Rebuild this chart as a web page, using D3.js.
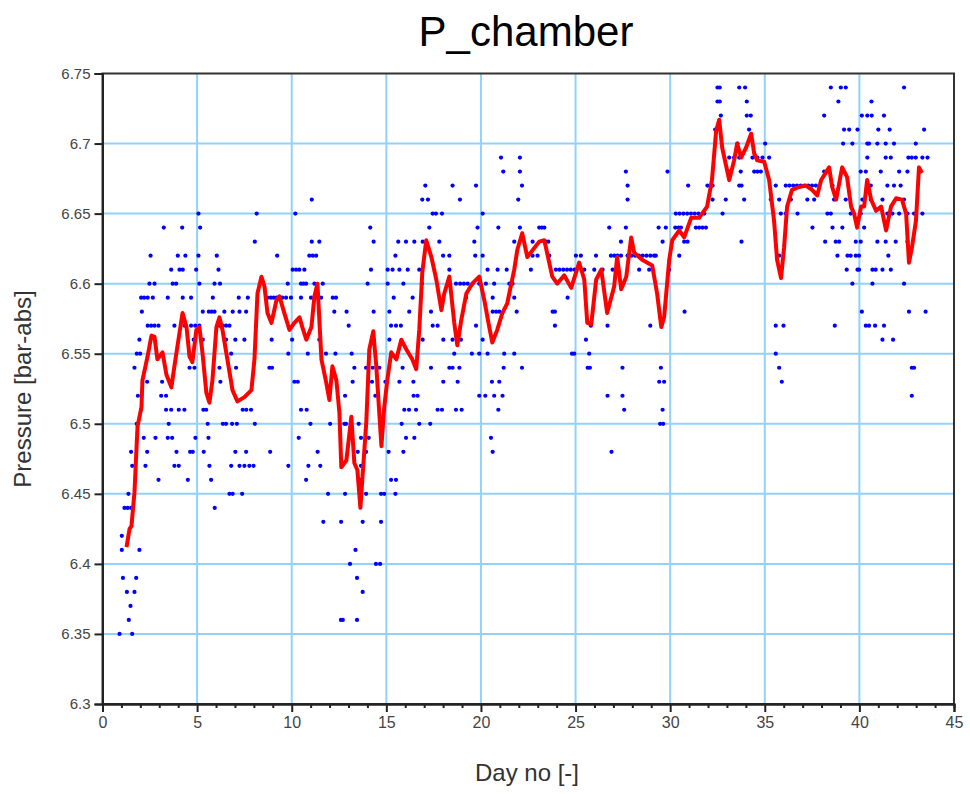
<!DOCTYPE html>
<html>
<head>
<meta charset="utf-8">
<script src="https://cdn.jsdelivr.net/npm/d3@7"></script>
<style>
  body { margin: 0; background: #fff; }
  svg text { font-family: "Liberation Sans", Arial, sans-serif; }
</style>
</head>
<body>
<script>
// smoothed pressure (red line), [day, bar-abs]
const pressureTrend = [
  [1.27,6.412],[1.43,6.425],[1.53,6.427],[1.69,6.451],[1.85,6.498],[2.06,6.512],[2.11,6.531],[2.38,6.548],
  [2.59,6.563],[2.75,6.562],[2.90,6.546],[3.17,6.551],[3.38,6.535],[3.64,6.526],[3.80,6.541],[4.07,6.565],
  [4.23,6.579],[4.44,6.569],[4.60,6.548],[4.75,6.544],[4.96,6.567],[5.12,6.569],[5.28,6.551],[5.49,6.522],
  [5.65,6.515],[5.81,6.531],[6.02,6.569],[6.18,6.576],[6.34,6.567],[6.60,6.546],[6.87,6.524],[7.13,6.516],
  [7.50,6.519],[7.87,6.524],[8.03,6.546],[8.19,6.593],[8.40,6.605],[8.56,6.598],[8.72,6.579],[8.93,6.572],
  [9.19,6.588],[9.35,6.591],[9.61,6.579],[9.88,6.567],[10.14,6.572],[10.41,6.576],[10.56,6.569],[10.77,6.560],
  [11.04,6.569],[11.20,6.591],[11.36,6.600],[11.57,6.546],[11.83,6.529],[11.99,6.517],[12.15,6.541],[12.36,6.531],
  [12.52,6.508],[12.62,6.469],[12.89,6.474],[13.15,6.505],[13.31,6.472],[13.47,6.467],[13.63,6.440],[13.73,6.460],
  [13.94,6.501],[14.10,6.553],[14.31,6.566],[14.47,6.541],[14.74,6.484],[14.89,6.512],[15.05,6.531],[15.26,6.551],
  [15.53,6.546],[15.79,6.560],[16.06,6.553],[16.37,6.546],[16.58,6.539],[16.74,6.567],[16.90,6.608],[17.11,6.631],
  [17.38,6.619],[17.64,6.603],[17.91,6.581],[18.06,6.593],[18.33,6.605],[18.59,6.572],[18.75,6.556],[18.96,6.574],
  [19.23,6.593],[19.54,6.600],[19.91,6.605],[20.18,6.588],[20.44,6.569],[20.60,6.558],[20.86,6.567],[21.13,6.579],
  [21.39,6.586],[21.76,6.610],[21.92,6.624],[22.18,6.636],[22.45,6.619],[23.08,6.630],[23.35,6.631],[23.77,6.605],
  [24.03,6.600],[24.40,6.606],[24.77,6.597],[25.19,6.615],[25.46,6.603],[25.62,6.572],[25.83,6.571],[26.09,6.603],
  [26.36,6.610],[26.67,6.579],[27.04,6.598],[27.20,6.619],[27.41,6.596],[27.68,6.605],[27.94,6.633],[28.10,6.622],
  [28.52,6.617],[29.05,6.613],[29.31,6.593],[29.53,6.569],[29.68,6.576],[29.95,6.617],[30.11,6.631],[30.48,6.638],
  [30.74,6.633],[31.11,6.647],[31.53,6.647],[31.95,6.655],[32.21,6.674],[32.43,6.709],[32.59,6.717],[32.75,6.697],
  [33.12,6.674],[33.38,6.688],[33.54,6.700],[33.75,6.690],[34.01,6.697],[34.28,6.707],[34.44,6.693],[34.60,6.688],
  [34.97,6.687],[35.23,6.674],[35.49,6.645],[35.65,6.617],[35.86,6.604],[36.02,6.626],[36.18,6.655],[36.44,6.667],
  [36.81,6.669],[37.18,6.670],[37.50,6.667],[37.77,6.663],[37.98,6.674],[38.40,6.683],[38.56,6.669],[38.77,6.660],
  [39.09,6.683],[39.35,6.676],[39.56,6.655],[39.72,6.650],[39.88,6.640],[40.09,6.655],[40.25,6.655],[40.41,6.674],
  [40.62,6.660],[40.88,6.652],[41.15,6.655],[41.41,6.638],[41.67,6.655],[41.94,6.661],[42.25,6.660],[42.47,6.650],
  [42.62,6.615],[42.78,6.626],[42.99,6.645],[43.15,6.683],[43.31,6.679]
];

// raw samples (blue dots), grouped by the 0.01 bar level they sit on: [level, days]
const sampleRows = [
  [6.74, [32.5,32.62,33.65,33.96,38.49,39.02,39.28,42.36]],
  [6.73, [32.5,32.62,34.05,38.89,40.64]],
  [6.72, [32.68,34.05,34.26,38.14,40.13,40.42,40.65,41.3]],
  [6.71, [32.38,34.17,39.19,39.46,39.9,41.0,41.6,43.42]],
  [6.70, [33.56,35.02,39.14,39.63,40.42,40.51,40.95,41.39,41.83,42.98]],
  [6.69, [21.06,22.06,33.12,33.38,33.65,34.35,34.61,34.88,35.23,40.42,41.39,41.66,42.59,42.77,42.98,43.33,43.6]],
  [6.68, [21.18,22.06,27.66,29.86,33.12,33.73,34.44,34.61,34.79,38.14,39.1,40.07,40.34,41.13,42.1,42.54]],
  [6.67, [17.06,18.5,19.74,22.17,27.75,30.95,31.97,32.24,33.65,33.77,35.58,36.11,36.3,36.5,36.7,36.9,37.1,37.3,
          37.5,37.7,38.58,40.6,41.48,41.83,42.18]],
  [6.66, [11.06,16.9,17.2,18.89,21.97,27.75,32.24,32.94,33.91,35.32,35.76,36.38,37.25,37.61,38.66,39.28,40.16,
          40.6,41.22,42.36]],
  [6.65, [5.07,8.15,10.19,17.45,17.62,17.94,20.09,30.3,30.5,30.7,30.9,31.1,31.3,31.5,31.8,32.77,35.85,36.11,
          36.73,38.31,38.49,39.54,40.07,41.48,41.74,42.1,42.54,42.89,43.33]],
  [6.64, [3.24,4.21,5.16,14.15,17.27,19.82,20.92,22.06,23.08,23.22,23.35,26.78,27.66,29.39,29.77,30.27,30.45,
          30.57,31.36,31.53,31.71,31.89,37.52,38.58,39.1,40.25]],
  [6.63, [8.05,11.06,11.46,14.33,15.63,16.04,16.48,16.92,17.8,19.65,21.76,22.73,23.43,23.56,27.4,29.6,30.74,
          30.92,33.77,38.19,38.75,38.93,39.81,40.07,40.95,41.39,41.92,42.54]],
  [6.62, [2.54,3.98,4.38,5.07,6.04,9.23,10.93,11.11,11.29,15.48,18.0,18.33,19.7,20.09,22.73,22.99,23.61,25.02,
          25.28,26.08,26.87,27.05,27.22,27.4,27.75,27.95,28.15,28.35,28.55,28.75,28.95,29.15,29.24,30.48,35.76,
          38.84,39.37,39.54,39.81,39.98,41.53]],
  [6.61, [3.63,4.07,4.24,4.95,6.13,10.05,10.23,10.4,10.67,14.19,15.07,15.33,15.69,16.13,16.74,18.33,20.35,20.88,
          21.36,22.64,23.96,24.15,24.35,24.55,24.75,24.95,25.46,25.99,26.43,26.96,28.36,28.89,29.95,39.33,39.9,
          39.98,40.69,40.86,41.22,41.66]],
  [6.60, [2.48,2.75,3.71,3.89,5.12,5.92,6.21,9.79,10.49,10.62,10.76,11.2,11.64,14.01,15.07,15.9,16.88,18.68,
          18.9,19.1,19.3,19.56,19.91,20.26,20.7,21.5,21.67,39.63,40.69,42.36]],
  [6.59, [2.04,2.2,2.39,2.66,3.45,4.24,4.68,5.83,7.2,7.68,8.73,8.9,9.05,9.2,9.35,9.5,9.7,9.96,10.49,11.02,11.55,
          12.17,12.34,15.39,16.39,19.21,20.62,21.76,24.58]],
  [6.58, [2.08,5.3,5.62,5.77,5.92,6.44,6.88,7.24,7.59,12.25,12.9,14.33,15.16,16.21,17.36,20.62,20.8,20.97,
          21.89,23.79,23.91,30.76,40.13,42.62,43.5]],
  [6.57, [2.39,2.57,2.75,2.96,3.8,4.33,4.68,4.9,5.12,6.18,6.36,6.53,6.71,13.01,15.25,15.51,15.77,17.45,17.71,
          19.74,23.91,25.81,26.69,28.95,35.58,35.99,38.7,40.34,40.51,40.83,41.3]],
  [6.56, [1.95,4.82,5.3,6.53,7.02,7.5,8.94,10.02,11.46,15.16,16.92,18.01,18.5,18.94,20.09,25.55,41.22,41.78]],
  [6.55, [1.81,1.99,4.6,6.8,9.82,10.85,11.81,12.31,13.17,18.59,19.52,19.91,20.35,21.23,21.76,24.81,24.93,
          25.72,35.58]],
  [6.54, [1.69,4.6,4.86,6.18,7.06,8.82,8.96,13.31,13.93,14.28,14.63,15.86,17.36,18.33,18.5,18.86,21.2,22.17,
          25.64,25.76,27.48,29.51,35.76,42.77,42.89]],
  [6.53, [2.36,3.15,6.23,10.14,10.32,13.22,14.24,14.95,15.69,16.43,18.01,18.77,20.58,20.97,29.42,29.68,35.9]],
  [6.52, [1.87,3.1,3.36,12.82,14.42,16.44,16.65,19.91,20.23,20.7,21.14,26.69,27.48,42.77]],
  [6.51, [2.04,3.36,3.63,4.03,4.33,5.33,5.48,7.41,7.6,7.85,10.49,10.79,15.95,16.2,16.57,17.71,17.94,18.68,18.98,
          20.92,27.57,29.6]],
  [6.50, [1.81,3.5,5.56,6.36,6.53,6.85,7.1,8.05,10.99,12.03,12.78,12.87,13.54,15.81,16.74,17.32,29.47,29.63]],
  [6.49, [2.18,2.8,3.45,3.68,4.91,5.6,10.37,13.66,14.07,16.04,16.48,20.53]],
  [6.48, [1.51,2.36,3.91,4.63,4.77,5.35,7.02,7.59,8.86,11.37,13.49,13.93,15.12,15.9,20.62,26.9]],
  [6.47, [1.57,2.27,3.8,4.03,5.65,6.8,7.24,7.5,7.76,7.98,9.82,10.88,11.51,13.66]],
  [6.46, [2.96,4.51,5.74,10.76,13.66,15.25,15.51]],
  [6.45, [1.37,6.71,6.88,7.38,11.92,12.82,13.93,14.72,14.89,15.48]],
  [6.44, [1.16,1.33,1.51,5.93]],
  [6.43, [11.67,12.61,13.75,14.72]],
  [6.42, [1.02]],
  [6.41, [1.02,1.95,13.37]],
  [6.40, [13.08,14.45,14.67]],
  [6.39, [1.08,1.78,13.45]],
  [6.38, [1.29,1.69,13.75]],
  [6.37, [1.48]],
  [6.36, [1.39,12.6,12.7,13.45]],
  [6.35, [0.9,1.57]]
];

const xTicks = [0, 5, 10, 15, 20, 25, 30, 35, 40, 45];
const yTicks = [6.3, 6.35, 6.4, 6.45, 6.5, 6.55, 6.6, 6.65, 6.7, 6.75];
const yTickLabels = ["6.3", "6.35", "6.4", "6.45", "6.5", "6.55", "6.6", "6.65", "6.7", "6.75"];

const w = 970, h = 794;
const plotLeft = 102.5, plotRight = 954, plotTop = 73.5, plotBottom = 704;

const svg = d3.select("body").append("svg")
  .attr("width", w)
  .attr("height", h);

const x = d3.scaleLinear().domain([0, 45]).range([plotLeft, plotRight]);
const y = d3.scaleLinear().domain([6.3, 6.75]).range([plotBottom, plotTop]);

// grid
svg.append("g")
  .selectAll("line")
  .data(xTicks.slice(1, -1))
  .join("line")
  .attr("x1", d => x(d)).attr("x2", d => x(d))
  .attr("y1", plotTop).attr("y2", plotBottom)
  .attr("stroke", "#92d2fa").attr("stroke-width", 2);

svg.append("g")
  .selectAll("line")
  .data(yTicks.slice(1, -1))
  .join("line")
  .attr("x1", plotLeft).attr("x2", plotRight)
  .attr("y1", d => y(d)).attr("y2", d => y(d))
  .attr("stroke", "#92d2fa").attr("stroke-width", 2);

// blue samples
const samples = sampleRows.flatMap(([p, days]) => days.map(d => [d, p]));
svg.append("g")
  .selectAll("circle")
  .data(samples)
  .join("circle")
  .attr("cx", d => x(d[0]))
  .attr("cy", d => y(d[1]))
  .attr("r", 2.1)
  .attr("fill", "#0000ff");

// red trend
svg.append("path")
  .datum(pressureTrend)
  .attr("fill", "none")
  .attr("stroke", "#ff0000")
  .attr("stroke-width", 4)
  .attr("stroke-linejoin", "round")
  .attr("d", d3.line().x(d => x(d[0])).y(d => y(d[1])));

// frame
svg.append("rect")
  .attr("x", plotLeft).attr("y", plotTop)
  .attr("width", plotRight - plotLeft).attr("height", plotBottom - plotTop)
  .attr("fill", "none")
  .attr("stroke", "#333").attr("stroke-width", 2);

// axes
const xAxis = d3.axisBottom(x).tickValues(xTicks).tickSize(8).tickPadding(5).tickFormat(d3.format("d"));
const xMinor = d3.axisBottom(x).tickValues(d3.range(0, 46).filter(d => d % 5)).tickSize(4).tickFormat("");
const yAxis = d3.axisLeft(y).tickValues(yTicks).tickSize(8).tickPadding(4)
  .tickFormat((d, i) => yTickLabels[i]);

function styleAxis(g) {
  g.select(".domain").attr("stroke", "#222").attr("stroke-width", 2);
  g.selectAll(".tick line").attr("stroke", "#222").attr("stroke-width", 2);
  g.selectAll(".tick text").attr("fill", "#444").attr("font-size", 16)
    .attr("font-family", "'Liberation Sans', Arial, sans-serif");
}

svg.append("g").attr("transform", `translate(0,${plotBottom})`).call(xMinor).call(styleAxis);
svg.append("g").attr("transform", `translate(0,${plotBottom})`).call(xAxis).call(styleAxis);
svg.append("g").attr("transform", `translate(${plotLeft},0)`).call(yAxis).call(g => {
  styleAxis(g);
  g.selectAll(".tick text").attr("font-size", 15);
});

// titles
svg.append("text")
  .text("P_chamber")
  .attr("x", 526).attr("y", 46)
  .attr("text-anchor", "middle")
  .attr("font-size", 42)
  .attr("fill", "#000");

svg.append("text")
  .text("Day no [-]")
  .attr("x", 527).attr("y", 781)
  .attr("text-anchor", "middle")
  .attr("font-size", 24)
  .attr("fill", "#333");

svg.append("text")
  .text("Pressure [bar-abs]")
  .attr("transform", "translate(31,389) rotate(-90)")
  .attr("text-anchor", "middle")
  .attr("font-size", 24)
  .attr("fill", "#333");
</script>
</body>
</html>
